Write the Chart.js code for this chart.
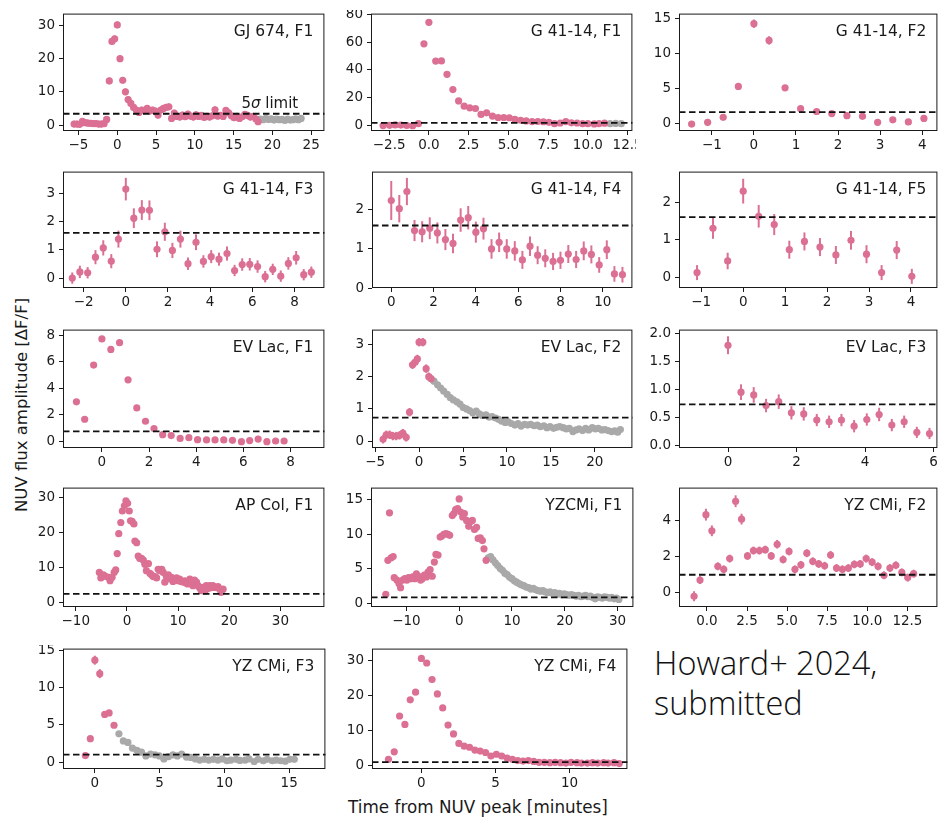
<!DOCTYPE html>
<html>
<head>
<meta charset="utf-8">
<script src="https://cdn.jsdelivr.net/npm/chart.js@4.4.1/dist/chart.umd.min.js"></script>
<style>
  body { margin: 0; width: 939px; height: 822px; background: #fff; position: relative; overflow: hidden; font-family: "DejaVu Sans", sans-serif; color: #1a1a1a; }
  canvas { position: absolute; }
  #ylab { position: absolute; left: 21px; top: 405px; transform: translate(-50%, -50%) rotate(-90deg); white-space: nowrap; font-size: 16.5px; }
  #xlab { position: absolute; left: 478px; top: 807px; transform: translate(-50%, -50%); white-space: nowrap; font-size: 16.8px; }
  #note { position: absolute; left: 654px; top: 643px; font-family: "Open Sans", sans-serif; font-weight: 300; font-size: 32.5px; line-height: 40px; color: #111; }
</style>
</head>
<body>
<div id="ylab">NUV flux amplitude [ΔF/F]</div>
<div id="xlab">Time from NUV peak [minutes]</div>
<div id="note">Howard+ 2024,<br>submitted</div>
<script>
// ---- data: [time (min), amplitude] ----
const gj674Pink = [[-5.57,0.3],[-5.2,0.3],[-4.85,0.2],[-4.5,1.1],[-4.15,0.7],[-3.8,0.6],[-3.45,0.5],[-3.1,0.4],[-2.75,0.4],[-2.4,0.3],[-2.05,0.3],[-1.7,0.4],[-1.37,1.7],[-1.03,13.3],[-0.69,25.2],[-0.34,26.0],[0,30.2],[0.35,20.0],[0.7,13.5],[1.05,10.0],[1.4,7.7],[1.75,6.5],[2.1,5.3],[2.45,4.5],[2.8,3.8],[3.15,4.5],[3.5,4.3],[3.85,5.0],[4.2,4.2],[4.55,4.5],[4.9,4.2],[5.25,3.0],[5.6,4.5],[5.95,5.0],[6.3,5.3],[6.65,5.5],[7.0,2.0],[7.35,3.6],[7.7,2.6],[8.05,2.4],[8.4,3.0],[8.75,2.5],[9.1,3.3],[9.45,2.7],[9.8,2.4],[10.15,3.1],[10.5,2.6],[10.85,2.9],[11.2,2.3],[11.55,2.6],[11.9,2.4],[12.25,2.8],[12.6,4.6],[12.95,2.7],[13.3,2.9],[13.65,2.6],[14.0,4.4],[14.35,3.7],[14.7,2.8],[15.05,2.2],[15.4,2.6],[15.75,2.0],[16.1,2.5],[16.45,3.2],[16.8,2.9],[17.15,2.4],[17.5,2.6],[17.85,1.9],[18.15,1.0]];
const gj674Gray = [[18.45,1.8],[18.8,1.6],[19.15,2.0],[19.5,1.7],[19.85,1.9],[20.2,1.5],[20.55,1.8],[20.9,1.6],[21.25,1.7],[21.6,1.4],[21.95,1.8],[22.3,1.5],[22.65,1.6],[23.0,1.9],[23.35,1.6],[23.7,2.0]];

const g41f1Pink = [[-2.88,-0.4],[-2.47,-0.2],[-2.12,0.1],[-1.76,0.0],[-1.39,-0.3],[-1.02,-0.5],[-0.66,1.0],[-0.31,58.9],[0,74.5],[0.43,46.4],[0.79,46.5],[1.14,36.8],[1.51,25.7],[1.87,17.5],[2.22,13.7],[2.57,12.5],[2.93,12.0],[3.28,7.7],[3.63,8.9],[4.0,6.5],[4.36,5.5],[4.71,5.5],[5.06,5.3],[5.41,4.1],[5.77,3.5],[6.12,3.0],[6.49,2.5],[6.85,2.6],[7.2,2.4],[7.55,2.0],[7.9,1.0],[8.26,1.5],[8.61,2.5],[8.96,1.6],[9.32,1.5],[9.67,1.0],[10.0,1.0],[10.4,0.8],[10.7,1.0],[11.05,1.4]];
const g41f1Gray = [[11.4,1.0],[11.75,1.2],[12.1,1.0]];

const g41f2Pink = [[-1.48,-0.1],[-1.1,0.15],[-0.73,0.86],[-0.37,5.3],[0,14.3],[0.36,11.9],[0.74,5.1],[1.11,2.1],[1.49,1.7],[1.85,1.4],[2.21,1.1],[2.58,1.0],[2.94,0.15],[3.3,0.5],[3.67,0.2],[4.04,0.7]];
const g41f2Err = [0.25,0.25,0.25,0.35,0.6,0.6,0.35,0.25,0.25,0.25,0.25,0.25,0.25,0.25,0.25,0.25];

const g41f3Pink = [[-2.54,0.0],[-2.18,0.22],[-1.81,0.19],[-1.44,0.74],[-1.07,1.07],[-0.69,0.6],[-0.35,1.38],[0,3.15],[0.38,2.12],[0.76,2.41],[1.12,2.4],[1.48,1.02],[1.85,1.64],[2.21,0.98],[2.59,1.38],[2.95,0.51],[3.33,1.27],[3.68,0.59],[4.05,0.76],[4.42,0.67],[4.8,0.87],[5.16,0.27],[5.52,0.48],[5.88,0.49],[6.25,0.41],[6.61,0.05],[6.97,0.31],[7.35,0.07],[7.71,0.52],[8.08,0.72],[8.44,0.12],[8.8,0.21]];
const g41f3Err = [0.2,0.22,0.2,0.25,0.27,0.25,0.3,0.4,0.35,0.35,0.35,0.28,0.32,0.27,0.3,0.22,0.28,0.22,0.23,0.23,0.25,0.2,0.22,0.22,0.22,0.2,0.2,0.2,0.22,0.24,0.2,0.2];

const g41f4Pink = [[0,2.24],[0.38,2.03],[0.74,2.47],[1.1,1.47],[1.46,1.44],[1.82,1.53],[2.18,1.41],[2.56,1.24],[2.92,1.14],[3.28,1.74],[3.64,1.8],[4.0,1.43],[4.36,1.52],[4.74,1.0],[5.1,1.17],[5.46,1.0],[5.84,0.95],[6.2,0.72],[6.56,1.07],[6.92,0.84],[7.28,0.76],[7.65,0.68],[8.0,0.71],[8.37,0.87],[8.74,0.73],[9.1,0.95],[9.46,0.86],[9.83,0.59],[10.19,0.98],[10.55,0.36],[10.93,0.34]];
const g41f4Err = [0.5,0.35,0.35,0.27,0.27,0.28,0.27,0.27,0.25,0.3,0.3,0.27,0.28,0.25,0.25,0.25,0.25,0.23,0.25,0.23,0.23,0.22,0.22,0.23,0.22,0.24,0.23,0.2,0.24,0.2,0.2];

const g41f5Pink = [[-1.1,0.12],[-0.72,1.3],[-0.37,0.43],[0,2.29],[0.37,1.62],[0.74,1.4],[1.1,0.73],[1.46,0.95],[1.83,0.8],[2.21,0.59],[2.57,0.98],[2.94,0.61],[3.3,0.12],[3.66,0.72],[4.02,0.02]];
const g41f5Err = [0.2,0.28,0.22,0.33,0.3,0.28,0.24,0.24,0.24,0.24,0.25,0.24,0.2,0.24,0.2];

const evl1Pink = [[-1.08,2.97],[-0.73,1.65],[-0.35,5.76],[0,7.74],[0.38,6.95],[0.75,7.46],[1.11,4.64],[1.48,2.51],[1.85,1.5],[2.21,0.94],[2.58,0.48],[2.94,0.41],[3.32,0.2],[3.69,0.25],[4.06,0.1],[4.44,0.08],[4.8,0.08],[5.17,0.08],[5.54,0.05],[5.92,-0.05],[6.27,0.03],[6.63,0.15],[7.0,-0.05],[7.37,0.0],[7.73,0.0]];

const evl2Pink = [[-4.1,0.06],[-3.74,0.2],[-3.36,0.2],[-2.98,0.16],[-2.6,0.16],[-2.23,0.18],[-1.85,0.25],[-1.47,0.12],[-1.09,0.9],[-0.75,2.37],[-0.45,2.45],[-0.2,2.55],[0,3.07],[0.42,3.07],[0.8,2.25],[1.1,2.0],[1.36,1.94]];
const evl2Gray = [[1.7,1.86],[2.1,1.75],[2.45,1.65],[2.8,1.55],[3.2,1.45],[3.55,1.35],[3.9,1.28],[4.3,1.22],[4.65,1.15],[5.0,1.05],[5.4,1.0],[5.75,0.95],[6.1,0.88],[6.5,0.93],[6.85,0.85],[7.2,0.8],[7.6,0.82],[7.95,0.75],[8.3,0.76],[8.7,0.72],[9.05,0.68],[9.4,0.62],[9.8,0.58],[10.15,0.6],[10.5,0.55],[10.9,0.5],[11.25,0.55],[11.6,0.47],[12.0,0.52],[12.35,0.5],[12.7,0.52],[13.1,0.48],[13.45,0.5],[13.8,0.45],[14.2,0.48],[14.55,0.42],[14.9,0.45],[15.3,0.4],[15.65,0.43],[16.0,0.45],[16.4,0.42],[16.75,0.38],[17.1,0.4],[17.5,0.3],[17.85,0.35],[18.2,0.38],[18.6,0.33],[18.95,0.4],[19.3,0.35],[19.7,0.42],[20.05,0.38],[20.4,0.4],[20.8,0.35],[21.15,0.36],[21.5,0.33],[21.9,0.3],[22.25,0.32],[22.6,0.28],[22.9,0.36]];

const evl3Pink = [[0,1.79],[0.38,0.95],[0.75,0.9],[1.11,0.71],[1.48,0.78],[1.85,0.58],[2.21,0.56],[2.59,0.45],[2.95,0.42],[3.31,0.45],[3.68,0.34],[4.05,0.46],[4.41,0.55],[4.78,0.36],[5.14,0.42],[5.51,0.23],[5.88,0.21]];
const evl3Err = [0.16,0.14,0.14,0.12,0.13,0.12,0.12,0.11,0.11,0.11,0.11,0.11,0.12,0.11,0.11,0.1,0.1];

const apcolPink = [[-5.4,8.5],[-5.1,6.9],[-4.6,7.8],[-4.1,7.3],[-3.6,7.1],[-3.3,6.1],[-2.9,7.1],[-2.5,8.5],[-2.2,9.2],[-1.9,13.9],[-1.6,19.6],[-1.2,22.8],[-0.9,26.1],[-0.5,27.6],[-0.2,29.0],[0.13,28.3],[0.45,26.1],[0.7,23.3],[1.0,23.1],[1.36,22.4],[1.56,17.5],[1.9,17.0],[2.2,13.2],[2.5,12.5],[2.85,12.5],[3.2,12.0],[3.5,10.8],[3.8,9.0],[4.2,11.0],[4.5,8.2],[4.8,7.8],[5.1,7.3],[5.5,7.3],[5.8,6.9],[6.1,9.4],[6.4,9.0],[6.8,9.4],[7.1,8.5],[7.4,5.7],[7.7,7.3],[8.1,7.8],[8.4,6.6],[8.7,7.1],[9.0,5.9],[9.4,6.6],[9.7,6.9],[10.0,6.1],[10.3,6.6],[10.6,5.9],[11.0,5.7],[11.3,6.1],[11.6,5.4],[11.9,5.2],[12.3,6.6],[12.6,6.1],[12.9,4.7],[13.2,6.3],[13.6,5.7],[13.9,4.7],[14.2,4.1],[14.5,3.3],[14.9,4.2],[15.2,3.1],[15.5,4.7],[15.8,3.8],[16.2,4.7],[16.5,4.1],[16.8,4.7],[17.1,4.2],[17.5,4.1],[17.8,4.4],[18.1,3.8],[18.4,2.8],[18.8,3.7]];

const yz1Pink = [[-13.9,1.35],[-13.5,6.25],[-13.2,13.1],[-12.9,6.6],[-12.5,6.8],[-12.3,3.75],[-11.8,3.4],[-11.4,2.9],[-11.1,2.3],[-10.7,3.4],[-10.3,3.6],[-9.9,3.4],[-9.6,3.75],[-9.2,3.6],[-8.8,3.85],[-8.4,3.6],[-8.1,4.3],[-7.7,3.95],[-7.3,3.4],[-7.0,3.6],[-6.6,4.1],[-6.2,3.85],[-5.9,4.55],[-5.5,4.9],[-5.1,3.95],[-4.7,6.0],[-4.4,7.1],[-4.0,7.0],[-3.6,9.6],[-3.3,9.75],[-2.9,10.0],[-2.5,10.1],[-2.1,10.0],[-1.8,9.85],[-1.3,12.7],[-1.0,13.0],[-0.67,13.55],[-0.3,13.7],[0,15.1],[0.3,13.2],[0.67,12.5],[1.0,13.0],[1.4,12.0],[1.8,11.15],[2.1,11.8],[2.5,12.0],[2.9,10.7],[3.3,11.0],[3.6,9.4],[4.0,9.5],[4.4,9.1],[4.7,7.9],[5.1,6.25]];
const yz1Gray = [[5.5,6.6],[5.95,6.8],[6.4,6.3],[6.85,5.9],[7.3,5.5],[7.75,5.1],[8.2,4.8],[8.65,4.4],[9.1,4.2],[9.55,3.8],[10.0,3.6],[10.45,3.3],[10.9,3.1],[11.35,2.9],[11.8,2.7],[12.25,2.6],[12.7,2.4],[13.15,2.3],[13.6,2.1],[14.05,2.2],[14.5,2.0],[14.95,1.9],[15.4,1.8],[15.85,1.9],[16.3,1.7],[16.75,1.6],[17.2,1.7],[17.65,1.5],[18.1,1.6],[18.55,1.4],[19.0,1.5],[19.45,1.3],[19.9,1.4],[20.35,1.3],[20.8,1.2],[21.25,1.3],[21.7,1.2],[22.15,1.1],[22.6,1.2],[23.05,1.0],[23.5,1.1],[23.95,1.2],[24.4,1.0],[24.85,1.1],[25.3,0.9],[25.75,0.7],[26.2,1.0],[26.65,0.9],[27.1,0.8],[27.55,1.0],[28.0,0.9],[28.45,0.8],[28.9,0.9],[29.35,0.7],[29.8,0.8],[30.25,0.6]];

const yz2Pink = [[-0.8,-0.2],[-0.43,0.7],[-0.06,4.35],[0.31,3.45],[0.68,1.47],[1.05,1.3],[1.42,1.9],[1.79,5.1],[2.16,4.1],[2.53,2.05],[2.9,2.35],[3.27,2.35],[3.64,2.4],[4.01,2.05],[4.38,2.7],[4.75,1.85],[5.12,2.3],[5.49,1.3],[5.86,1.55],[6.23,2.2],[6.6,1.75],[6.97,1.6],[7.34,1.5],[7.71,2.1],[8.08,1.37],[8.45,1.3],[8.82,1.37],[9.19,1.58],[9.56,1.6],[9.93,1.9],[10.3,1.7],[10.67,1.47],[11.04,0.97],[11.41,1.37],[11.78,1.53],[12.15,1.13],[12.52,0.84],[12.89,1.06]];
const yz2Err = [0.28,0.22,0.33,0.3,0.22,0.22,0.22,0.33,0.3,0.22,0.22,0.22,0.22,0.22,0.24,0.22,0.22,0.22,0.22,0.22,0.22,0.22,0.22,0.22,0.22,0.22,0.22,0.22,0.22,0.22,0.22,0.22,0.22,0.22,0.22,0.22,0.22,0.22];

const yz3Pink = [[-0.73,0.9],[-0.35,3.15],[0,13.65],[0.38,11.85],[0.76,6.4],[1.1,6.6],[1.48,4.95]];
const yz3Err = [0.3,0.35,0.6,0.6,0.4,0.4,0.35];
const yz3Gray = [[1.86,3.8],[2.2,2.85],[2.55,2.65],[2.9,1.9],[3.25,1.6],[3.6,1.35],[3.94,0.85],[4.3,1.1],[4.64,1.0],[4.98,0.85],[5.33,0.45],[5.68,0.75],[6.03,1.0],[6.37,0.85],[6.7,1.1],[7.07,0.7],[7.4,0.65],[7.76,0.45],[8.1,0.3],[8.45,0.4],[8.8,0.3],[9.15,0.4],[9.5,0.3],[9.84,0.45],[10.2,0.2],[10.5,0.3],[10.9,0.4],[11.2,0.25],[11.6,0.3],[11.9,0.45],[12.3,0.1],[12.6,0.4],[13.0,0.2],[13.3,0.4],[13.7,0.2],[14.0,0.3],[14.35,0.2],[14.7,0.15],[15.05,0.4],[15.4,0.4]];

const yz4Pink = [[-2.22,1.75],[-1.83,3.9],[-1.47,14.1],[-1.11,11.7],[-0.75,18.7],[-0.39,20.9],[0,30.5],[0.36,29.2],[0.72,24.5],[1.08,20.4],[1.44,16.4],[1.8,11.5],[2.17,9.0],[2.53,6.3],[2.89,5.5],[3.25,5.2],[3.61,4.4],[3.97,4.1],[4.33,3.7],[4.69,2.7],[5.06,3.2],[5.42,2.7],[5.78,2.1],[6.14,1.75],[6.5,1.4],[6.86,1.25],[7.22,1.4],[7.58,1.15],[7.94,0.9],[8.3,0.9],[8.67,0.8],[9.03,0.9],[9.39,0.8],[9.75,0.7],[10.1,0.9],[10.5,0.8],[10.8,0.7],[11.2,0.7],[11.55,0.8],[11.9,0.7],[12.3,0.8],[12.6,0.7],[13.0,0.8],[13.35,0.55]];

// 5 sigma detection limits
const limits = [3.4, 1.6, 1.6, 1.6, 1.6, 1.6, 0.73, 0.73, 0.73, 2.35, 0.92, 1.0, 1.03, 0.97];
const titles = ['GJ 674, F1', 'G 41-14, F1', 'G 41-14, F2', 'G 41-14, F3', 'G 41-14, F4', 'G 41-14, F5',
  'EV Lac, F1', 'EV Lac, F2', 'EV Lac, F3', 'AP Col, F1', 'YZCMi, F1', 'YZ CMi, F2', 'YZ CMi, F3', 'YZ CMi, F4'];

const PINK = '#db7093';
const GRAY = '#a9a9a9';
const INK = '#1a1a1a';
const YW = 48, XH = 22, PADT = 3, PADR = 3;

// frame = [left, top, right, bottom] in page pixels
const panels = [
  { pink: gj674Pink, gray: gj674Gray, err: 1.0, frame: [63, 13, 325, 131], xr: [-7.0, 26.7], yr: [-1.8, 33.6], xt: [-5, 0, 5, 10, 15, 20, 25], yt: [0, 10, 20, 30], sigmaNote: true },
  { pink: g41f1Pink, gray: g41f1Gray, err: 1.0, frame: [371, 13, 633, 131], xr: [-3.64, 12.8], yr: [-4.3, 80.8], xt: [-2.5, 0, 2.5, 5, 7.5, 10, 12.5], xd: 1, yt: [0, 20, 40, 60, 80] },
  { pink: g41f2Pink, err: g41f2Err, frame: [679, 13, 938, 131], xr: [-1.78, 4.36], yr: [-1.1, 15.75], xt: [-1, 0, 1, 2, 3, 4], yt: [0, 5, 10, 15] },
  { pink: g41f3Pink, err: g41f3Err, frame: [63, 171, 325, 288], xr: [-2.98, 9.42], yr: [-0.35, 3.77], xt: [-2, 0, 2, 4, 6, 8], yt: [0, 1, 2, 3] },
  { pink: g41f4Pink, err: g41f4Err, frame: [372, 171, 633, 288], xr: [-0.91, 11.4], yr: [0, 2.98], xt: [0, 2, 4, 6, 8, 10], yt: [0, 1, 2] },
  { pink: g41f5Pink, err: g41f5Err, frame: [679, 171, 938, 288], xr: [-1.53, 4.63], yr: [-0.29, 2.81], xt: [-1, 0, 1, 2, 3, 4], yt: [0, 1, 2] },
  { pink: evl1Pink, err: 0.1, frame: [63, 329, 325, 448], xr: [-1.65, 9.44], yr: [-0.53, 8.45], xt: [0, 2, 4, 6, 8], yt: [0, 2, 4, 6, 8] },
  { pink: evl2Pink, gray: evl2Gray, err: 0.13, frame: [372, 329, 633, 448], xr: [-5.36, 24.27], yr: [-0.21, 3.46], xt: [-5, 0, 5, 10, 15, 20], yt: [0, 1, 2, 3] },
  { pink: evl3Pink, err: evl3Err, frame: [679, 329, 938, 448], xr: [-1.43, 6.11], yr: [-0.05, 2.07], xt: [0, 2, 4, 6], yt: [0, 0.5, 1, 1.5, 2], yd: 1 },
  { pink: apcolPink, err: 0.8, frame: [63, 487, 325, 607], xr: [-12.5, 38.6], yr: [-1.42, 32.8], xt: [-10, 0, 10, 20, 30], yt: [0, 10, 20, 30] },
  { pink: yz1Pink, gray: yz1Gray, err: 0.4, frame: [371, 487, 634, 607], xr: [-16.7, 33.0], yr: [-0.48, 16.73], xt: [-10, 0, 10, 20, 30], yt: [0, 5, 10, 15] },
  { pink: yz2Pink, err: yz2Err, frame: [679, 487, 938, 607], xr: [-1.74, 14.37], yr: [-0.8, 5.86], xt: [0, 2.5, 5, 7.5, 10, 12.5], xd: 1, yt: [0, 2, 4] },
  { pink: yz3Pink, gray: yz3Gray, err: yz3Err, frame: [63, 648, 326, 769], xr: [-2.46, 17.8], yr: [-0.9, 15.2], xt: [0, 5, 10, 15], yt: [0, 5, 10, 15] },
  { pink: yz4Pink, err: 0.5, frame: [372, 648, 628, 769], xr: [-3.33, 13.9], yr: [-1.0, 33.3], xt: [0, 5, 10], yt: [0, 10, 20, 30] }
];

function fmt(dec) {
  return v => (dec ? v.toFixed(dec) : String(v)).replace('-', '\u2212');
}

const panelPlugin = {
  id: 'panelPlugin',
  beforeDatasetsDraw(chart) {
    const { ctx, scales: { y } } = chart;
    chart.data.datasets.forEach((ds, i) => {
      if (ds.err === undefined) return;
      const meta = chart.getDatasetMeta(i);
      ctx.save();
      ctx.strokeStyle = ds.backgroundColor;
      ctx.lineWidth = 2;
      ds.data.forEach((p, j) => {
        const e = Array.isArray(ds.err) ? ds.err[j] : ds.err;
        const px = meta.data[j].x;
        ctx.beginPath();
        ctx.moveTo(px, y.getPixelForValue(p.y - e));
        ctx.lineTo(px, y.getPixelForValue(p.y + e));
        ctx.stroke();
      });
      ctx.restore();
    });
  },
  afterDatasetsDraw(chart, args, opts) {
    const { ctx, chartArea: a, scales: { y } } = chart;
    ctx.save();
    // 5 sigma limit
    const ly = y.getPixelForValue(opts.limit);
    ctx.strokeStyle = '#111';
    ctx.lineWidth = 1.8;
    ctx.setLineDash([6.5, 3.5]);
    ctx.beginPath();
    ctx.moveTo(a.left, ly);
    ctx.lineTo(a.right, ly);
    ctx.stroke();
    ctx.setLineDash([]);
    // axes box
    ctx.strokeStyle = INK;
    ctx.lineWidth = 1;
    ctx.strokeRect(a.left + 0.5, a.top + 0.5, a.right - a.left - 1, a.bottom - a.top - 1);
    // panel name
    ctx.fillStyle = INK;
    ctx.font = '15.5px "DejaVu Sans"';
    ctx.textAlign = 'right';
    ctx.textBaseline = 'alphabetic';
    ctx.fillText(opts.title, a.right - 11, a.top + 22);
    if (opts.sigmaNote) {
      ctx.textAlign = 'left';
      ctx.font = '15px "DejaVu Sans"';
      ctx.fillText('5', a.right - 83, ly - 6);
      const w5 = ctx.measureText('5').width;
      ctx.font = 'italic 15px "DejaVu Sans"';
      ctx.fillText('\u03c3', a.right - 83 + w5, ly - 6);
      const ws = ctx.measureText('\u03c3').width;
      ctx.font = '15px "DejaVu Sans"';
      ctx.fillText(' limit', a.right - 83 + w5 + ws, ly - 6);
    }
    ctx.restore();
  }
};

const tickFont = { family: 'DejaVu Sans', size: 13.5 };

panels.forEach((p, k) => {
  const [l, t, r, b] = p.frame;
  const cv = document.createElement('canvas');
  cv.width = r - l + YW + PADR;
  cv.height = b - t + PADT + XH;
  cv.style.left = (l - YW) + 'px';
  cv.style.top = (t - PADT) + 'px';
  document.body.appendChild(cv);

  const datasets = [{
    data: p.pink.map(d => ({ x: d[0], y: d[1] })),
    backgroundColor: PINK,
    err: p.err,
    pointRadius: 3.6,
    pointHoverRadius: 3.6,
    borderWidth: 0
  }];
  if (p.gray) {
    datasets.push({
      data: p.gray.map(d => ({ x: d[0], y: d[1] })),
      backgroundColor: GRAY,
      pointRadius: 3.6,
      pointHoverRadius: 3.6,
      borderWidth: 0
    });
  }

  new Chart(cv, {
    type: 'scatter',
    data: { datasets },
    options: {
      responsive: false,
      animation: false,
      events: [],
      layout: { padding: { top: PADT, right: PADR, left: 0, bottom: 0 } },
      plugins: {
        legend: { display: false },
        tooltip: { enabled: false },
        panelPlugin: { limit: limits[k], title: titles[k], sigmaNote: !!p.sigmaNote }
      },
      scales: {
        x: {
          type: 'linear',
          min: p.xr[0],
          max: p.xr[1],
          afterBuildTicks: ax => { ax.ticks = p.xt.map(v => ({ value: v })); },
          afterFit: s => { s.height = XH; s.paddingLeft = 0; s.paddingRight = 0; },
          ticks: { autoSkip: false, maxRotation: 0, font: tickFont, color: INK, padding: 2, callback: fmt(p.xd) },
          grid: { drawOnChartArea: false, drawTicks: true, tickLength: 4, color: INK },
          border: { display: false }
        },
        y: {
          type: 'linear',
          min: p.yr[0],
          max: p.yr[1],
          afterBuildTicks: ax => { ax.ticks = p.yt.map(v => ({ value: v })); },
          afterFit: s => { s.width = YW; s.paddingTop = 0; s.paddingBottom = 0; },
          ticks: { autoSkip: false, font: tickFont, color: INK, padding: 4, callback: fmt(p.yd) },
          grid: { drawOnChartArea: false, drawTicks: true, tickLength: 4, color: INK },
          border: { display: false }
        }
      }
    },
    plugins: [panelPlugin]
  });
});
</script>
</body>
</html>
